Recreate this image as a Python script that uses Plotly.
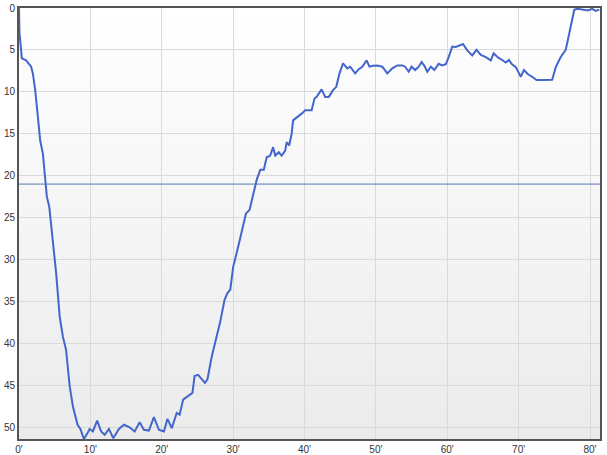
import plotly.graph_objects as go

# Dive profile: time (minutes) vs depth
time_min = [0, 0.07, 0.4, 1.0, 1.33, 1.7, 1.94, 2.27, 2.65, 2.97, 3.35, 3.67, 3.9, 4.24, 4.6,
            5.2, 5.7, 6.15, 6.6, 7.1, 7.55, 8.2, 8.6, 9.1, 9.6, 9.9, 10.35, 10.95, 11.5, 12.0,
            12.6, 13.2, 14.0, 14.7, 15.5, 16.2, 16.9, 17.5, 18.2, 18.9, 19.6, 20.3, 20.8, 21.4,
            22.1, 22.5, 23.0, 23.7, 24.3, 24.6, 25.1, 26.05, 26.4, 27.0, 27.7, 28.2, 28.8, 29.2,
            29.6, 30.0, 30.7, 31.4, 31.8, 32.3, 32.8, 33.3, 33.8, 34.3, 34.7, 35.2, 35.6, 35.9,
            36.4, 36.8, 37.3, 37.5, 37.85, 38.2, 38.4, 38.9, 39.6, 40.1, 41.0, 41.4, 41.7, 42.4,
            42.9, 43.4, 44.0, 44.45, 44.9, 45.4, 45.7, 46.0, 46.4, 46.8, 47.1, 47.6, 48.1, 48.7,
            49.1, 49.6, 50.2, 50.9, 51.6, 52.3, 53.0, 53.7, 54.1, 54.6, 55.0, 55.5, 56.0, 56.4,
            56.8, 57.2, 57.7, 58.2, 58.8, 59.3, 59.8, 60.2, 60.7, 61.2, 61.7, 62.2, 62.8, 63.5,
            64.1, 64.7, 65.4, 66.1, 66.5, 67.1, 67.7, 68.2, 68.65, 69.0, 69.6, 70.3, 70.75, 71.3,
            71.9, 72.5, 73.3, 74.7, 75.2, 75.9, 76.6, 77.1, 77.5, 77.8, 78.3, 79.0, 79.7, 80.3,
            80.8, 81.3]
depth = [0, 3.0, 6.0, 6.25, 6.6, 7.0, 7.8, 9.8, 13.0, 15.8, 17.4, 20.5, 22.5, 23.7, 26.5,
         31.6, 36.8, 39.2, 40.8, 45.1, 47.5, 49.7, 50.2, 51.4, 50.7, 50.2, 50.5, 49.2, 50.5, 50.9,
         50.2, 51.3, 50.2, 49.7, 50.0, 50.5, 49.4, 50.3, 50.4, 48.8, 50.3, 50.5, 49.0, 50.1,
         48.3, 48.5, 46.7, 46.3, 45.9, 43.9, 43.75, 44.7, 44.3, 41.6, 39.2, 37.4, 34.8, 34.0,
         33.6, 30.9, 28.5, 26.1, 24.5, 24.1, 22.1, 20.5, 19.3, 19.3, 17.8, 17.6, 16.6, 17.6,
         17.2, 17.6, 17.0, 16.0, 16.4, 15.0, 13.4, 13.1, 12.6, 12.2, 12.2, 10.8, 10.6, 9.7,
         10.6, 10.6, 9.8, 9.4, 7.8, 6.6, 6.9, 7.2, 7.0, 7.4, 7.8, 7.3, 7.0, 6.25,
         7.0, 6.9, 6.85, 7.0, 7.8, 7.2, 6.85, 6.85, 7.0, 7.6, 7.0, 7.4, 7.0, 6.45,
         6.9, 7.6, 7.0, 7.4, 6.65, 6.85, 6.7, 5.85, 4.6, 4.65, 4.5, 4.3, 5.05, 5.65,
         5.0, 5.6, 5.85, 6.25, 5.4, 5.9, 6.2, 6.5, 6.2, 6.65, 7.05, 8.2, 7.4, 7.9,
         8.2, 8.6, 8.6, 8.55, 7.05, 5.85, 5.0, 3.1, 1.5, 0.2, 0.1, 0.2, 0.3, 0.1,
         0.35, 0.2]
reference_depth = 21.0
x_ticks = [0, 10, 20, 30, 40, 50, 60, 70, 80]
x_tick_labels = ["0'", "10'", "20'", "30'", "40'", "50'", "60'", "70'", "80'"]
y_ticks = [0, 5, 10, 15, 20, 25, 30, 35, 40, 45, 50]
x_max = 81.4
y_max = 51.4

fig = go.Figure()
fig.add_trace(go.Scatter(x=time_min, y=depth, mode="lines",
                         line=dict(color="#4466cc", width=2), hoverinfo="skip"))

# gradient background bands
shapes = []
n = 60
for i in range(n):
    f = i / n
    c = int(round(255 - 20 * (1 - f)))  # bottom darker
    shapes.append(dict(type="rect", xref="paper", yref="paper", x0=0, x1=1,
                       y0=i / n, y1=(i + 1) / n + 0.001, line=dict(width=0),
                       fillcolor=f"rgb({c},{c},{c})", layer="below"))
shapes.append(dict(type="line", xref="paper", yref="y", x0=0, x1=1,
                   y0=reference_depth, y1=reference_depth,
                   line=dict(color="#5a78bb", width=1), layer="above"))
fig.update_layout(shapes=shapes)

fig.update_layout(
    width=607, height=455,
    margin=dict(l=19, r=7, t=8, b=16),
    paper_bgcolor="white", plot_bgcolor="rgba(0,0,0,0)",
    showlegend=False,
    font=dict(family="Liberation Sans, Arial, sans-serif", size=10, color="#333333"),
)
fig.update_xaxes(range=[0, x_max], tickvals=x_ticks, ticktext=x_tick_labels,
                 showgrid=True, gridcolor="#dadada", gridwidth=1,
                 showline=True, linecolor="#555555", linewidth=2, mirror=True,
                 zeroline=False, ticks="", ticklen=0, automargin=False)
fig.update_yaxes(range=[y_max, 0], tickvals=y_ticks,
                 showgrid=True, gridcolor="#dadada", gridwidth=1,
                 showline=True, linecolor="#555555", linewidth=2, mirror=True,
                 zeroline=False, ticks="", ticklen=0, automargin=False)

fig.write_html("out.html", config={"displayModeBar": False},
               post_script="document.body.style.margin='0';")
